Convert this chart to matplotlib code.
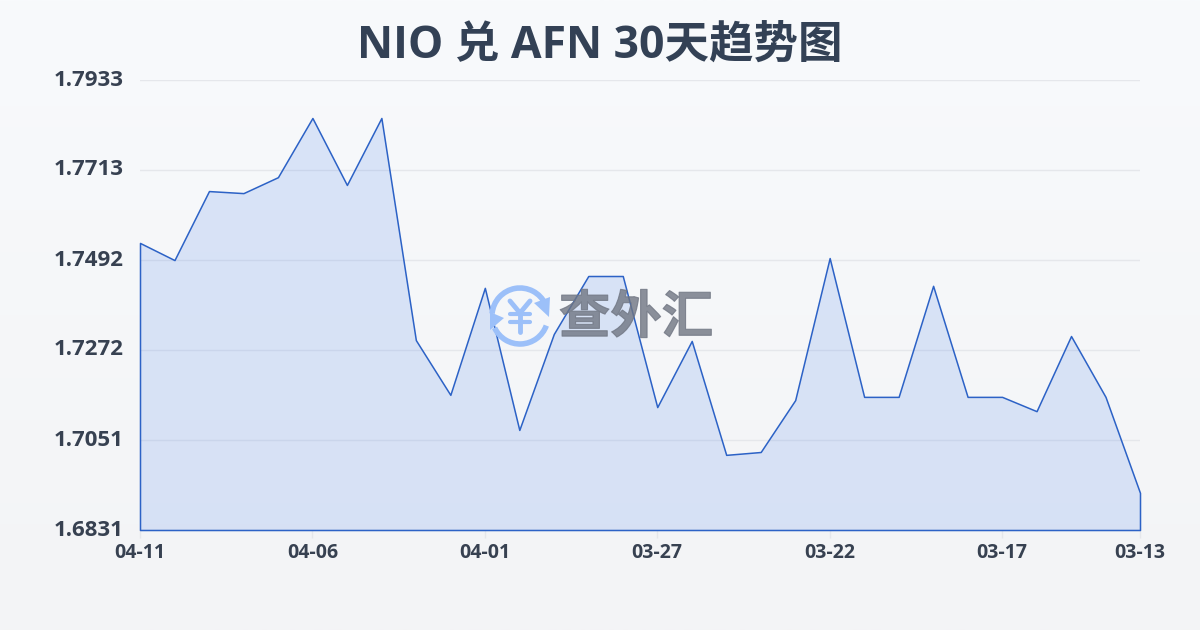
import numpy as np
import matplotlib
matplotlib.use('Agg')
import matplotlib.pyplot as plt
import matplotlib.patheffects as pe
from matplotlib.patches import Arc, Polygon

plt.rcParams['font.family'] = ['Open Sans', 'Noto Sans CJK SC', 'DejaVu Sans']

title = 'NIO 兑 AFN 30天趋势图'
watermark = '查外汇'

# newest date first, same order as the x axis of the chart
rates = [1.7534, 1.7492, 1.7661, 1.7656, 1.7695, 1.7840, 1.7676, 1.7840, 1.7296, 1.7162,
         1.7424, 1.7076, 1.7311, 1.7453, 1.7453, 1.7132, 1.7294, 1.7015, 1.7022, 1.7149,
         1.7497, 1.7157, 1.7157, 1.7429, 1.7157, 1.7157, 1.7122, 1.7306, 1.7157, 1.6922]
date_ticks = [0, 5, 10, 15, 20, 25, 29]
date_labels = ['04-11', '04-06', '04-01', '03-27', '03-22', '03-17', '03-13']
rate_ticks = [1.6831, 1.7051, 1.7272, 1.7492, 1.7713, 1.7933]
rate_labels = ['1.6831', '1.7051', '1.7272', '1.7492', '1.7713', '1.7933']

W, H = 1200, 630
fig = plt.figure(figsize=(W / 100, H / 100), dpi=100)

# background gradient
bg = fig.add_axes([0, 0, 1, 1], zorder=0)
top = np.array([248, 250, 252]) / 255
bottom = np.array([243, 244, 246]) / 255
grad = np.linspace(0, 1, 256)[:, None, None] * (bottom - top) + top
bg.imshow(grad, aspect='auto', extent=[0, 1, 0, 1])
bg.axis('off')

ax = fig.add_axes([140 / W, 1 - 530 / H, 1000 / W, 450 / H], zorder=1)
ax.patch.set_alpha(0)
x = np.arange(len(rates))
ax.set_xlim(0, len(rates) - 1)
ax.set_ylim(rate_ticks[0], rate_ticks[-1])

for s in ax.spines.values():
    s.set_visible(False)
ax.grid(axis='y', color='#e5e7eb', linewidth=1)
ax.set_axisbelow(True)

ax.fill_between(x, rates, rate_ticks[0], facecolor=(0.25, 0.48, 0.92, 0.16),
                edgecolor='#2c62c6', linewidth=1.1, clip_on=False, zorder=2)

ax.set_xticks(date_ticks)
ax.set_xticklabels(date_labels, fontsize=14, fontweight='bold', color='#374151')
ax.set_yticks(rate_ticks)
ax.set_yticklabels(rate_labels, fontsize=16, fontweight='bold', color='#374151')
for lab in ax.get_yticklabels():
    lab.set_verticalalignment('center')
    lab.set_transform(lab.get_transform() + matplotlib.transforms.ScaledTranslation(0, 2 / 72, fig.dpi_scale_trans))
ax.tick_params(axis='x', length=6, width=1, color='#e5e7eb', pad=3)
ax.tick_params(axis='y', length=0, pad=12)

fig.text(0.5, 1 - 46 / H, title, ha='center', va='center', fontsize=32,
         fontweight='bold', color='#334155')

# watermark overlay, in pixel coordinates of the figure
over = fig.add_axes([0, 0, 1, 1], zorder=3)
over.set_xlim(0, W)
over.set_ylim(H, 0)
over.axis('off')
logo = '#9cc0f9'
cx, cy, r = 520, 316, 28
over.add_patch(Arc((cx, cy), 2 * r, 2 * r, theta1=185, theta2=335, color=logo, lw=4))
over.add_patch(Arc((cx, cy), 2 * r, 2 * r, theta1=20, theta2=155, color=logo, lw=4))
over.add_patch(Polygon([[cx + 14, cy - 13], [cx + 29, cy + 1], [cx + 30, cy - 19]], color=logo, lw=0))
over.add_patch(Polygon([[cx - 30, cy - 4], [cx - 30, cy + 14], [cx - 16, cy + 2]], color=logo, lw=0))
over.plot([cx - 10, cx, cx + 10], [cy - 15, cy - 3, cy - 15], color=logo, lw=3.5, solid_capstyle='round')
over.plot([cx, cx], [cy - 3, cy + 16], color=logo, lw=3.5, solid_capstyle='round')
over.plot([cx - 10, cx + 10], [cy - 2, cy - 2], color=logo, lw=3, solid_capstyle='round')
over.plot([cx - 10, cx + 10], [cy + 6, cy + 6], color=logo, lw=3, solid_capstyle='round')
over.text(636, 320, watermark, ha='center', va='center', fontsize=37, fontweight='bold',
          color='#6f7582', alpha=0.8,
          path_effects=[pe.Stroke(linewidth=0.8, foreground='#6f7582', alpha=0.8)])

fig.savefig('out.png', dpi=100)
